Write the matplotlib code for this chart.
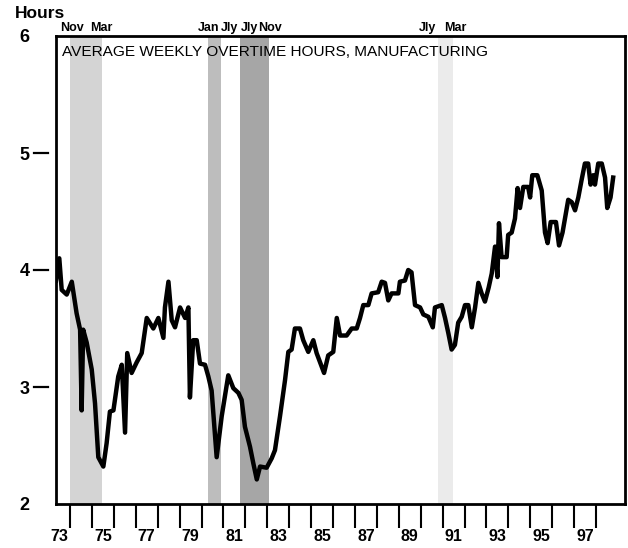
import matplotlib
matplotlib.use("Agg")
import matplotlib.pyplot as plt

# Average weekly overtime hours, manufacturing
years = [1973.36, 1973.51, 1973.62, 1973.85, 1974.08, 1974.30, 1974.46, 1974.53,
         1974.60, 1974.76, 1974.99, 1975.14, 1975.29, 1975.52, 1975.67, 1975.82,
         1975.98, 1976.20, 1976.36, 1976.51, 1976.61, 1976.81, 1977.04, 1977.27,
         1977.50, 1977.80, 1978.03, 1978.26, 1978.33, 1978.49, 1978.64, 1978.79,
         1979.02, 1979.25, 1979.40, 1979.47, 1979.62, 1979.78, 1979.93, 1980.16,
         1980.31, 1980.46, 1980.69, 1980.92, 1981.22, 1981.45, 1981.68, 1981.83,
         1981.98, 1982.21, 1982.36, 1982.52, 1982.67, 1982.97, 1983.20, 1983.35,
         1983.58, 1983.81, 1983.96, 1984.11, 1984.26, 1984.49, 1984.64, 1984.87,
         1985.10, 1985.25, 1985.41, 1985.59, 1985.78, 1986.01, 1986.17, 1986.32,
         1986.62, 1986.85, 1987.08, 1987.23, 1987.38, 1987.61, 1987.76, 1988.06,
         1988.22, 1988.37, 1988.52, 1988.67, 1988.98, 1989.05, 1989.28, 1989.43,
         1989.58, 1989.74, 1989.97, 1990.12, 1990.35, 1990.55, 1990.65, 1990.96,
         1991.11, 1991.26, 1991.41, 1991.56, 1991.71, 1991.87, 1992.02, 1992.17,
         1992.33, 1992.48, 1992.63, 1992.78, 1992.93, 1993.10, 1993.24, 1993.39,
         1993.50, 1993.57, 1993.69, 1993.92, 1993.99, 1994.15, 1994.30, 1994.42,
         1994.53, 1994.68, 1994.90, 1994.99, 1995.09, 1995.32, 1995.52, 1995.67,
         1995.79, 1995.93, 1996.17, 1996.31, 1996.47, 1996.63, 1996.73, 1996.89,
         1997.04, 1997.19, 1997.34, 1997.49, 1997.64, 1997.75, 1997.87, 1997.95,
         1998.10, 1998.26, 1998.41, 1998.51, 1998.66, 1998.78]
hours = [3.91, 4.10, 3.83, 3.79, 3.90, 3.63, 3.49, 2.80,
         3.49, 3.38, 3.15, 2.86, 2.40, 2.32, 2.52, 2.79,
         2.80, 3.09, 3.19, 2.61, 3.29, 3.12, 3.21, 3.29,
         3.59, 3.50, 3.59, 3.42, 3.68, 3.90, 3.57, 3.51,
         3.68, 3.59, 3.68, 2.91, 3.40, 3.40, 3.20, 3.19,
         3.09, 2.97, 2.40, 2.75, 3.10, 2.99, 2.95, 2.89,
         2.66, 2.49, 2.35, 2.21, 2.32, 2.31, 2.39, 2.46,
         2.75, 3.06, 3.30, 3.32, 3.50, 3.50, 3.40, 3.30,
         3.40, 3.29, 3.21, 3.12, 3.27, 3.30, 3.59, 3.44,
         3.44, 3.50, 3.50, 3.59, 3.70, 3.70, 3.80, 3.81,
         3.90, 3.89, 3.74, 3.80, 3.80, 3.90, 3.91, 4.00,
         3.98, 3.70, 3.68, 3.62, 3.60, 3.51, 3.68, 3.70,
         3.59, 3.46, 3.32, 3.36, 3.55, 3.60, 3.70, 3.70,
         3.51, 3.68, 3.89, 3.80, 3.73, 3.85, 3.97, 4.20,
         3.94, 4.40, 4.11, 4.11, 4.30, 4.32, 4.44, 4.70,
         4.53, 4.71, 4.71, 4.62, 4.81, 4.81, 4.68, 4.32,
         4.23, 4.41, 4.41, 4.21, 4.32, 4.49, 4.60, 4.58,
         4.51, 4.62, 4.77, 4.91, 4.91, 4.73, 4.81, 4.73,
         4.91, 4.91, 4.79, 4.53, 4.62, 4.79]

# Recessions (shaded)
rec_start = [1974.00, 1980.30, 1981.76, 1990.79]
rec_end = [1975.46, 1980.89, 1983.08, 1991.47]
rec_shade = ["#d4d4d4", "#bdbdbd", "#a6a6a6", "#ebebeb"]

# month labels printed above the frame, and where they sit
month_lbl = ["Nov", "Mar", "Jan", "Jly", "Jly", "Nov", "Jly", "Mar"]
month_pos = [1974.09, 1975.41, 1980.34, 1981.30, 1982.17, 1983.12, 1990.29, 1991.56]

tick_years = list(range(1974, 1999))
label_years = list(range(1973, 1998, 2))
y_labels = [2, 3, 4, 5, 6]
y_dashes = [3, 4, 5]

font = ["Liberation Sans", "DejaVu Sans"]

fig = plt.figure(figsize=(6.28, 5.48), dpi=100)
ax = fig.add_axes([56/628, 44/548, 569/628, 468/548])

for s, e, c in zip(rec_start, rec_end, rec_shade):
    ax.axvspan(s, e, color=c, lw=0, zorder=0)

ax.plot(years, hours, color="black", lw=3.2, zorder=3)

ax.set_xlim(1973.36, 1999.32)
ax.set_ylim(2, 6)

for sp in ax.spines.values():
    sp.set_linewidth(2)

# x axis: ticks at year boundaries, labels centred in odd years
ax.set_xticks(tick_years)
ax.set_xticklabels([])
ax.set_xticks([y + 0.5 for y in label_years], minor=True)
ax.set_xticklabels([str(y)[2:] for y in label_years], minor=True,
                   family=font, weight="bold", fontsize=11.5)
ax.tick_params(axis="x", which="major", direction="out", length=17, width=1.5)
ax.tick_params(axis="x", which="minor", length=0, pad=18)

# y axis: labels well to the left, short free-standing dashes
ax.set_yticks(y_labels)
ax.set_yticklabels([str(v) for v in y_labels], family=font, weight="bold",
                   fontsize=13)
ax.tick_params(axis="y", length=0, pad=19)
for v in y_dashes:
    ax.plot([-0.039, -0.014], [v, v], color="black", lw=1.6,
            transform=ax.get_yaxis_transform(), clip_on=False)

ax.text(0.011, 0.965, "AVERAGE WEEKLY OVERTIME HOURS, MANUFACTURING",
        transform=ax.transAxes, ha="left", va="center", family=font,
        fontsize=11.1, zorder=4)

trans = ax.get_xaxis_transform()
for lbl, x in zip(month_lbl, month_pos):
    ax.text(x, 1.018, lbl, transform=trans, ha="center", va="center",
            family=font, weight="bold", fontsize=9)

fig.text(15/628, 1 - 14/548, "Hours", ha="left", va="center",
         family=font, weight="bold", fontsize=12.5)

fig.savefig("out.png", dpi=100)
